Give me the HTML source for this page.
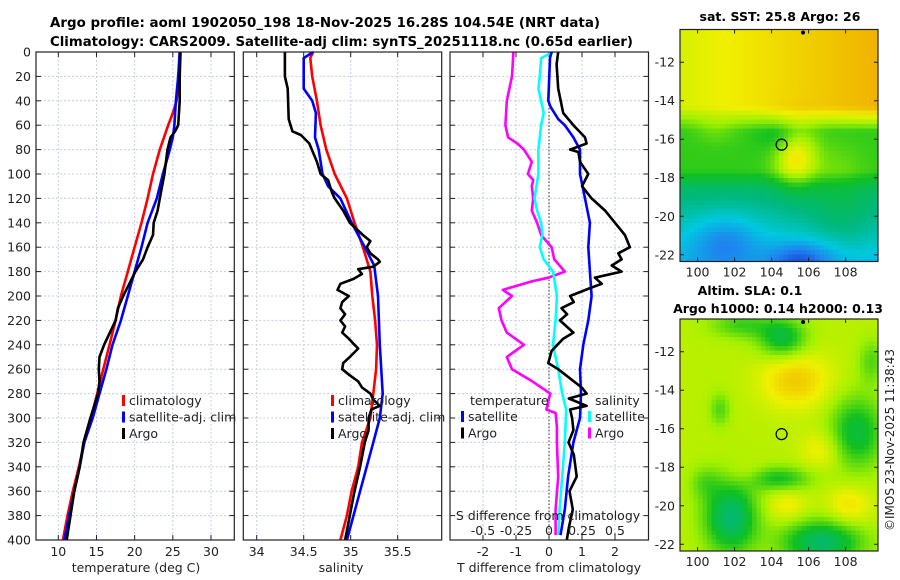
<!DOCTYPE html>
<html><head><meta charset="utf-8"><style>
body{margin:0;background:#fff}
svg{display:block;font-family:"DejaVu Sans","Liberation Sans",sans-serif}
</style></head><body>
<svg id="fig" width="900" height="580" viewBox="0 0 900 580" xmlns="http://www.w3.org/2000/svg">
<text x="50" y="27" font-size="13.5" font-weight="bold" textLength="550" lengthAdjust="spacingAndGlyphs">Argo profile: aoml 1902050_198 18-Nov-2025 16.28S 104.54E (NRT data)</text>
<text x="50" y="46" font-size="13.5" font-weight="bold" textLength="583" lengthAdjust="spacingAndGlyphs">Climatology: CARS2009. Satellite-adj clim: synTS_20251118.nc (0.65d earlier)</text>
<g id="plots"></g>
<text x="780" y="21" font-size="12.5" font-weight="bold" text-anchor="middle">sat. SST: 25.8 Argo: 26</text>
<text x="750" y="295" font-size="12.5" font-weight="bold" text-anchor="middle">Altim. SLA: 0.1</text>
<text x="778" y="313" font-size="12.5" font-weight="bold" text-anchor="middle">Argo h1000: 0.14 h2000: 0.13</text>
<text transform="translate(894,440) rotate(-90)" font-size="12" text-anchor="middle" fill="#222">©IMOS 23-Nov-2025 11:38:43</text>
</svg>
<script>
// ---- data ----
const tClimDepth=[0,20,40,50,60,80,100,120,140,160,180,200,220,240,260,280,300,320,340,360,380,400];
const tClim=[25.9,25.8,25.5,25.0,24.4,23.3,22.4,21.7,20.9,20.0,19.1,18.2,17.5,16.7,15.9,15.1,14.3,13.4,12.7,11.9,11.2,10.6];
const tSatDepth=[0,20,40,50,60,70,80,100,120,140,160,180,200,220,240,260,280,300,320,340,360,380,400];
const tSat=[25.9,25.7,25.4,25.3,25.2,25.0,24.6,23.7,22.9,21.7,20.9,20.0,19.1,18.2,17.1,16.3,15.4,14.5,13.4,12.8,12.1,11.4,10.8];
const tArgoDepth=[0,20,40,60,65,70,80,100,120,130,140,150,160,170,180,190,200,210,220,240,250,260,270,280,290,300,320,340,360,380,400];
const tArgo=[26.0,25.9,25.9,25.7,25.3,24.7,24.3,23.9,23.3,23.0,22.5,22.4,21.7,21.1,20.1,19.3,18.5,17.8,17.5,16.0,15.4,15.3,15.4,15.2,14.7,14.2,13.3,12.8,12.1,11.6,11.1];
const sClimDepth=[0,5,20,40,60,80,100,120,140,160,180,200,220,240,260,280,300,320,340,360,380,400];
const sClim=[34.60,34.57,34.59,34.64,34.68,34.74,34.83,34.96,35.04,35.13,35.21,35.23,35.26,35.28,35.27,35.24,35.21,35.12,35.08,35.01,34.96,34.89];
const sSatDepth=[0,5,30,40,50,70,80,100,110,120,140,160,175,200,240,280,300,320,340,360,380,400];
const sSat=[34.60,34.50,34.50,34.59,34.63,34.62,34.66,34.70,34.76,34.89,35.01,35.15,35.25,35.29,35.31,35.34,35.31,35.24,35.17,35.10,35.03,34.96];
const sArgoDepth=[0,20,30,55,65,68,75,90,100,105,115,120,130,140,150,155,160,165,170,172,176,178,182,186,190,195,200,205,210,215,220,225,230,235,240,243,250,255,260,265,270,275,280,285,290,293,300,310,320,340,360,380,400];
const sArgo=[34.30,34.30,34.33,34.34,34.38,34.47,34.56,34.64,34.68,34.76,34.80,34.83,34.92,34.99,35.13,35.21,35.17,35.21,35.29,35.31,35.24,35.08,35.12,35.03,34.89,34.86,34.98,34.91,34.89,34.94,34.89,34.94,34.91,34.98,35.04,35.08,34.99,34.92,34.91,34.99,35.08,35.12,35.21,35.24,35.31,35.22,35.19,35.19,35.15,35.10,35.04,34.99,34.94];
const dTSatDepth=[0,5,40,45,55,60,70,80,100,120,140,160,180,200,220,240,260,280,300,320,348,375,396];
const dTSat=[0.08,0.03,-0.02,0.05,0.28,0.48,0.74,0.94,0.94,1.09,1.24,1.19,1.24,1.29,1.19,1.04,0.94,0.97,0.94,0.74,0.58,0.48,0.35];
const dTArgoDepth=[0,10,30,50,60,70,75,80,82,90,100,110,120,130,140,150,160,165,170,175,180,185,190,193,200,205,210,215,220,230,235,245,255,260,275,280,284,290,293,300,310,320,330,348,360,375,390,400];
const dTArgo=[0.28,0.23,0.28,0.43,0.74,1.09,1.14,0.64,0.89,0.94,1.19,1.0,1.29,1.70,2.0,2.3,2.45,2.10,2.2,1.9,2.20,1.39,1.6,1.29,0.64,0.75,0.38,0.55,0.33,0.74,0.43,0.08,-0.02,0.28,0.99,1.14,0.6,1.14,0.64,0.7,0.74,0.59,0.75,0.84,0.62,0.72,0.6,0.54];
const dSSatDepth=[0,5,20,30,40,50,60,80,100,120,130,140,150,160,170,180,200,220,240,260,280,293,320,348,375,396];
const dSSat=[0.03,-0.06,-0.07,-0.08,-0.06,-0.04,-0.06,-0.08,-0.08,-0.11,-0.09,-0.06,-0.05,-0.07,-0.04,0.03,0.06,0.05,0.03,0.07,0.10,0.13,0.12,0.10,0.08,0.07];
const dSArgoDepth=[0,20,40,60,70,75,80,90,100,105,110,120,130,140,150,160,170,180,185,188,195,200,210,220,230,240,250,260,269,280,284,293,296,307,320,348,375,396];
const dSArgo=[-0.27,-0.28,-0.32,-0.33,-0.31,-0.24,-0.19,-0.13,-0.16,-0.12,-0.13,-0.12,-0.13,-0.09,-0.06,0.02,0.04,0.12,-0.005,-0.13,-0.35,-0.28,-0.38,-0.36,-0.32,-0.19,-0.32,-0.28,-0.14,0.01,0.0,-0.02,0.05,0.06,0.06,0.07,0.05,0.05];
const depthTicks=[0,20,40,60,80,100,120,140,160,180,200,220,240,260,280,300,320,340,360,380,400];
const tTicks=[10,15,20,25,30];
const sTicks=[34,34.5,35,35.5];
const sTickLabels=["34","34.5","35","35.5"];
const dTTicks=[-2,-1,0,1,2];
const dSTicks=[-0.5,-0.25,0,0.25,0.5];
const lonTicks=[100,102,104,106,108];
const latTicks=[-12,-14,-16,-18,-20,-22];
const argoLon=104.54, argoLat=-16.28;
const sstBlobs=[[105.3,-16.9,0.22,0.8,1.1],[104.6,-15.9,-0.08,0.8,0.6],[101.5,-21.3,-0.15,1.3,1.0],[105.6,-22.3,-0.2,1.2,0.7],[107.5,-17.5,0.04,1,1],[101,-15.5,0.05,0.8,0.5],[107.8,-20.3,0.07,1.4,1.4]];
const slaBlobs=[[105.3,-13.5,0.14,1.3,1.0],[106.7,-17.1,0.08,0.8,0.7],[108.2,-20,0.1,0.8,0.7],[104.8,-20,0.08,0.8,0.6],[102.6,-18.4,0.05,0.7,0.5],[104.6,-11.3,-0.2,0.9,0.7],[102.4,-10.6,-0.12,1.2,0.5],[101.8,-20.6,-0.27,1.0,1.3],[106.7,-21.9,-0.26,1.5,0.8],[108.6,-16.2,-0.2,1.0,1.3],[104.4,-18.6,-0.16,1.2,0.45],[101.2,-15,-0.1,0.4,0.6],[109.4,-12.5,-0.1,0.5,0.8],[100.4,-18.8,-0.08,0.6,0.6]];

// ---- layout ----
const NS="http://www.w3.org/2000/svg";
const root=document.getElementById('plots');
function mk(tag,attrs,parent){const e=document.createElementNS(NS,tag);for(const k in attrs)e.setAttribute(k,attrs[k]);(parent||root).appendChild(e);return e;}
const Y0=52,Y1=540;
const yD=d=>Y0+d*(Y1-Y0)/400;
function panel(name,x0,x1,sx,ticks,labels){
  const g=mk('g',{});
  
  
  ticks.forEach(v=>{const l=mk('line',{x1:sx(v),x2:sx(v),y1:Y0,y2:Y1,stroke:'#c5cde6','stroke-width':1,'stroke-dasharray':'2,2'},g);
    });
  depthTicks.forEach(d=>{const l=mk('line',{x1:x0,x2:x1,y1:yD(d),y2:yD(d),stroke:'#c5cde6','stroke-width':1,'stroke-dasharray':'2,2'},g);
    
    mk('line',{x1:x0,x2:x0+5,y1:yD(d),y2:yD(d),stroke:'#222'},g);mk('line',{x1:x1-5,x2:x1,y1:yD(d),y2:yD(d),stroke:'#222'},g);});
  ticks.forEach((v,i)=>{mk('line',{x1:sx(v),x2:sx(v),y1:Y1,y2:Y1-5,stroke:'#222'},g);mk('line',{x1:sx(v),x2:sx(v),y1:Y0,y2:Y0+5,stroke:'#222'},g);
    if(labels){const t=mk('text',{x:sx(v),y:556,'font-size':12.5,'text-anchor':'middle',fill:'#222'},g);t.textContent=labels[i];
    }});
  return g;
}
function line(g,name,xs,ds,sx,color){
  const p=mk('polyline',{points:xs.map((v,i)=>sx(v).toFixed(1)+','+yD(ds[i]).toFixed(1)).join(' '),fill:'none',stroke:color,'stroke-width':2.6,'stroke-linejoin':'round'},g);
  
  
}
function frame(g,x0,x1){mk('rect',{x:x0,y:Y0,width:x1-x0,height:Y1-Y0,fill:'none',stroke:'#222','stroke-width':1.2},g);}
function txt(g,name,x,y,s,opts){const t=mk('text',Object.assign({x:x,y:y,'font-size':12.5,fill:'#222'},opts||{}),g);t.textContent=s;
  return t;}
function legend(g,x,y,items){items.forEach((it,i)=>{mk('rect',{x:x,y:y+i*16.5-10,width:3,height:11,fill:it[1]},g);txt(g,'legend-entry',x+7,y+i*16.5,it[0],{'font-size':12.5});});}

// panel 1 temperature
const sxT=v=>58.3+(v-10)*7.635;
const g1=panel('temperature-panel',36,234.3,sxT,tTicks,tTicks.map(String));
depthTicks.forEach(d=>{txt(g1,'y-tick-label',31,yD(d)+4.5,String(d),{'text-anchor':'end','font-size':12.5});});
line(g1,'temp-climatology-line',tClim,tClimDepth,sxT,'#ff0000');
line(g1,'temp-satellite-line',tSat,tSatDepth,sxT,'#0000ff');
line(g1,'temp-argo-line',tArgo,tArgoDepth,sxT,'#000000');
frame(g1,36,234.3);
legend(g1,122,405,[['climatology','#ff0000'],['satellite-adj. clim','#0000ff'],['Argo','#000']]);
txt(g1,'x-axis-title',136,572,'temperature (deg C)',{'text-anchor':'middle','font-size':12.5});

// panel 2 salinity
const sxS=v=>256.7+(v-34)*94;
const g2=panel('salinity-panel',243.3,441.7,sxS,sTicks,sTickLabels);
line(g2,'sal-climatology-line',sClim,sClimDepth,sxS,'#ff0000');
line(g2,'sal-satellite-line',sSat,sSatDepth,sxS,'#0000ff');
line(g2,'sal-argo-line',sArgo,sArgoDepth,sxS,'#000000');
frame(g2,243.3,441.7);
legend(g2,331,405,[['climatology','#ff0000'],['satellite-adj. clim','#0000ff'],['Argo','#000']]);
txt(g2,'x-axis-title',341,572,'salinity',{'text-anchor':'middle','font-size':12.5});

// panel 3 differences
const sxDT=v=>549+v*33;
const sxDS=v=>549+v*132;
const g3=panel('difference-panel',450,648.5,sxDT,dTTicks,dTTicks.map(String));
mk('line',{x1:sxDT(0),x2:sxDT(0),y1:Y0,y2:Y1,stroke:'#555','stroke-width':1.2,'stroke-dasharray':'1.5,2'},g3);
line(g3,'sal-diff-argo-line',dSArgo,dSArgoDepth,sxDS,'#ff00ff');
line(g3,'sal-diff-satellite-line',dSSat,dSSatDepth,sxDS,'#00ffff');
line(g3,'temp-diff-satellite-line',dTSat,dTSatDepth,sxDT,'#0000ff');
line(g3,'temp-diff-argo-line',dTArgo,dTArgoDepth,sxDT,'#000000');
frame(g3,450,648.5);
txt(g3,'legend-header-temperature',470,405,'temperature');
legend(g3,461,421,[['satellite','#0000ff'],['Argo','#000']]);
txt(g3,'legend-header-salinity',595,405,'salinity');
legend(g3,588,421,[['satellite','#00ffff'],['Argo','#ff00ff']]);
txt(g3,'s-axis-title',548,520,'S difference from climatology',{'text-anchor':'middle'});
dSTicks.forEach(v=>{txt(g3,'s-tick-label',sxDS(v),535,String(v),{'text-anchor':'middle'});});
txt(g3,'x-axis-title',549,572,'T difference from climatology',{'text-anchor':'middle'});

// maps
const stops=[[0,[16,48,208]],[0.15,[32,128,240]],[0.3,[0,200,224]],[0.42,[0,184,128]],[0.55,[16,192,32]],[0.68,[160,240,0]],[0.78,[240,240,0]],[0.9,[240,176,0]],[1,[224,128,0]]];
function cmap(v){v=Math.max(0,Math.min(1,v));for(let i=1;i<stops.length;i++){if(v<=stops[i][0]){const a=stops[i-1],b=stops[i],t=(v-a[0])/(b[0]-a[0]);return 'rgb('+a[1].map((c,k)=>Math.round(c+(b[1][k]-c)*t)).join(',')+')';}}return 'rgb(224,128,0)';}
function blobs(list,lon,lat){let s=0;list.forEach(b=>{s+=b[2]*Math.exp(-((lon-b[0])**2/(2*b[3]*b[3])+(lat-b[1])**2/(2*b[4]*b[4])));});return s;}
function sstBase(lon,lat){
  const top=0.76+0.014*(lon-100);
  let v;
  if(lat>-14.3) v=top; else if(lat>-15.6) v=top+(0.58-top)*(-14.3-lat)/1.3;
  else if(lat>-17.6) v=0.58; else if(lat>-18.6) v=0.58-0.13*(-17.6-lat);
  else v=0.45-0.05*(-18.6-lat);
  return v+blobs(sstBlobs,lon,lat);
}
function slaBase(lon,lat){return 0.71+blobs(slaBlobs,lon,lat);}
function map(name,y0,y1,fn){
  const x0=680,x1=878,lon0=99.05,lon1=109.75,lat0=-10.3,lat1=-22.35;
  const sx=l=>x0+(l-lon0)/(lon1-lon0)*(x1-x0);
  const sy=l=>y0+(l-lat0)/(lat1-lat0)*(y1-y0);
  const g=mk('g',{});
  
  
  const cw=4.5,ch=4.5;
  for(let y=y0;y<y1;y+=ch){for(let x=x0;x<x1;x+=cw){
    const lon=lon0+(x+cw/2-x0)/(x1-x0)*(lon1-lon0),lat=lat0+(y+ch/2-y0)/(y1-y0)*(lat1-lat0);
    mk('rect',{x:x,y:y,width:Math.min(cw,x1-x)+0.4,height:Math.min(ch,y1-y)+0.4,fill:cmap(fn(lon,lat))},g);}}
  mk('rect',{x:x0,y:y0,width:x1-x0,height:y1-y0,fill:'none',stroke:'#222','stroke-width':1.2},g);
  lonTicks.forEach(l=>{mk('line',{x1:sx(l),x2:sx(l),y1:y1,y2:y1-4,stroke:'#222'},g);mk('line',{x1:sx(l),x2:sx(l),y1:y0,y2:y0+4,stroke:'#222'},g);
    txt(g,'lon-tick-label',sx(l),y1+15,String(l),{'text-anchor':'middle'});});
  latTicks.forEach(l=>{mk('line',{x1:x0,x2:x0+4,y1:sy(l),y2:sy(l),stroke:'#222'},g);mk('line',{x1:x1-4,x2:x1,y1:sy(l),y2:sy(l),stroke:'#222'},g);
    txt(g,'lat-tick-label',675,sy(l)+4.5,String(l),{'text-anchor':'end'});});
  const c=mk('circle',{cx:sx(argoLon),cy:sy(argoLat),r:5.5,fill:'none',stroke:'#000','stroke-width':1.2},g);
  
  
  mk('circle',{cx:sx(105.7),cy:y0+3,r:2,fill:'#000'},g);
}
map('sst-map',29.5,261.5,sstBase);
map('sla-map',319,551,slaBase);
</script>
</body></html>
